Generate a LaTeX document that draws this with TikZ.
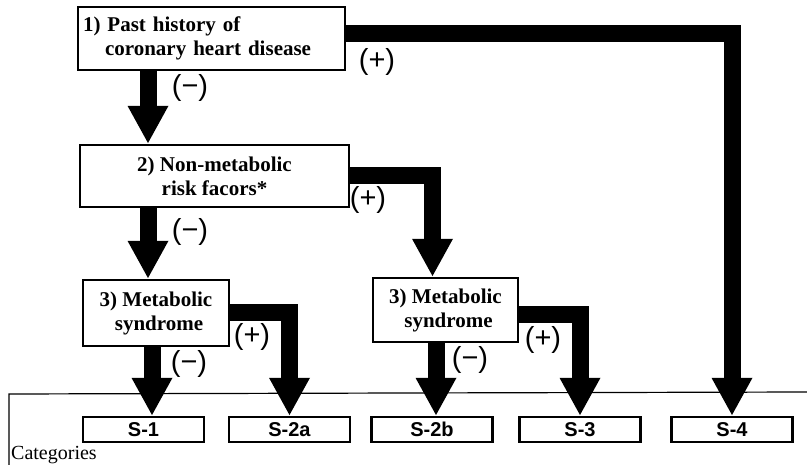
\documentclass[tikz,border=0pt]{standalone}
\usepackage{fontspec}
\setmainfont{Liberation Serif}
\newfontfamily\gothic{Liberation Sans}
\usetikzlibrary{arrows.meta}

\begin{document}
\begin{tikzpicture}[x=1pt, y=-1pt,
  stepbox/.style={draw, line width=2.4pt, inner sep=0pt, align=center,
    font=\bfseries\fontsize{21}{24}\selectfont},
  catbox/.style={draw, line width=2.4pt, inner sep=0pt, minimum width=121pt,
    minimum height=25pt, font=\gothic\bfseries\fontsize{20}{20}\selectfont},
  fat/.style={line width=17pt, line join=miter,
    -{Triangle[width=38pt, length=38pt]}},
  sign/.style={font=\gothic\fontsize{29}{29}\selectfont}]
  \useasboundingbox (0,0) rectangle (807,465);
  \node[stepbox, minimum width=267pt, minimum height=63pt, text width=257pt, align=left]
    (pasthx) at (211.5,38.5) {1) Past history of\\\hspace*{22pt}coronary heart disease};
  \node[stepbox, minimum width=269pt, minimum height=62pt] (nonmet) at (214.5,176)
    {2) Non-metabolic\\risk facors*};
  \node[stepbox, minimum width=146pt, minimum height=66pt] (meta) at (156,313)
    {3) Metabolic\\\hspace*{6pt}syndrome};
  \node[stepbox, minimum width=145pt, minimum height=64pt] (metb) at (445.5,310)
    {3) Metabolic\\\hspace*{6pt}syndrome};
  \node[catbox] (s1) at (143.5,429.5) {S-1};
  \node[catbox] (s2a) at (289.5,429.5) {S-2a};
  \node[catbox] (s2b) at (432,429.5) {S-2b};
  \node[catbox] (s3) at (580,429.5) {S-3};
  \node[catbox] (s4) at (732,429.5) {S-4};

  \draw[fat] ([xshift=-63.5pt]pasthx.south) -- ([xshift=-63.5pt]pasthx.south |- nonmet.north);
  \draw[fat] ([yshift=5pt]pasthx.east) -| (s4.north);
  \draw[fat] (nonmet.east) -| ([xshift=-13pt]metb.north);
  \draw[fat] ([xshift=-66.5pt]nonmet.south) -- ([xshift=-66.5pt]nonmet.south |- meta.north);
  \draw[fat] ([xshift=-4pt]meta.south) -- ([xshift=-4pt]meta.south |- s1.north);
  \draw[fat] (meta.east) -| (s2a.north);
  \draw[fat] ([xshift=-9.5pt]metb.south) -- ([xshift=-9.5pt]metb.south |- s2b.north);
  \draw[fat] ([yshift=-5pt]metb.east) -| (s3.north);

  \node[sign] (n1) at (190,88) {(−)};
  \node[sign] (p1) at (377,62) {(+)};
  \node[sign] (p2) at (368,200) {(+)};
  \node[sign] (n2) at (190,232) {(−)};
  \node[sign] (n3) at (189,364) {(−)};
  \node[sign] (p3) at (252,337) {(+)};
  \node[sign] (n4) at (470,360) {(−)};
  \node[sign] (p4) at (543,340) {(+)};

  \draw[line width=1.2pt] (9,470) -- (9,394) -- (807,392);
  \node[anchor=base west, inner sep=0pt, font=\fontsize{20}{20}\selectfont] (cat) at (11,459) {Categories};
\end{tikzpicture}
\end{document}
